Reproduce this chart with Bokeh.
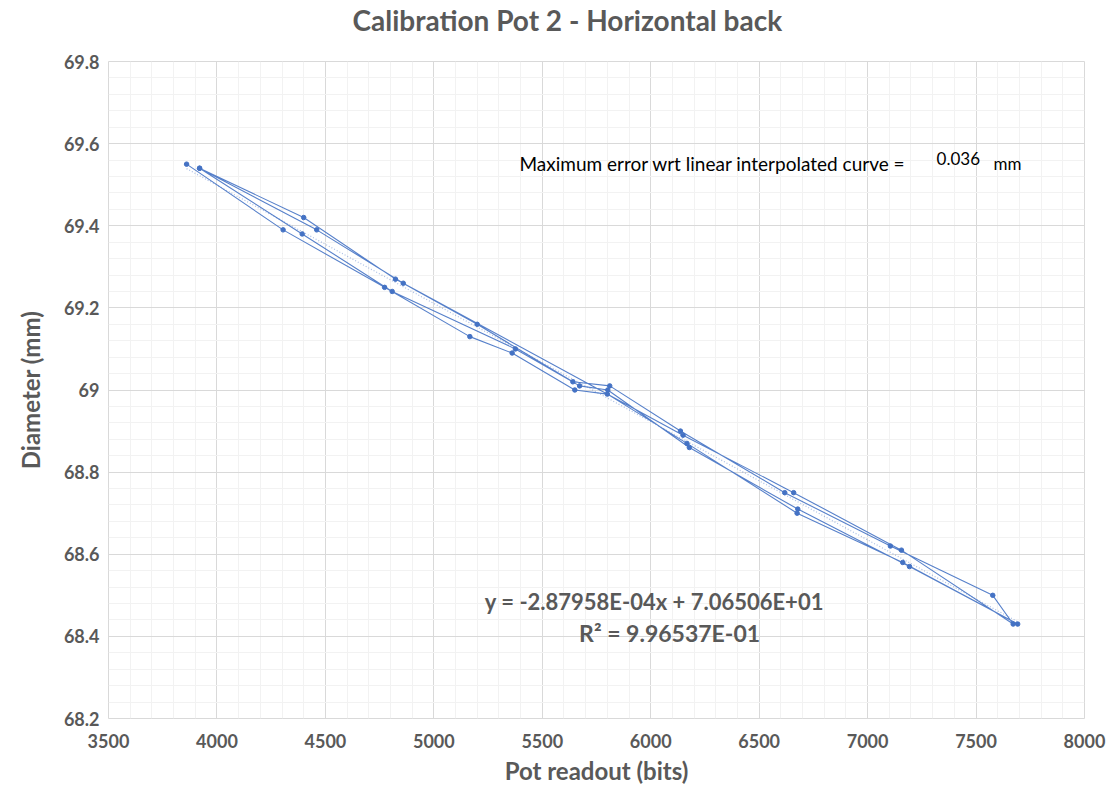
from bokeh.plotting import figure
from bokeh.models import (FixedTicker, CustomJSTickFormatter, Label, ColumnDataSource,
                          Range1d, Title)
from bokeh.embed import file_html
from bokeh.resources import INLINE

# Pot readings (bits) and measured diameter (mm), in acquisition order
pot_bits = [3860, 4305, 4773, 5166, 5361, 5650, 5800, 6167, 6675, 7162, 7692,
            7193, 6678, 6178, 5802, 5672, 5376, 4808, 4393, 3920,
            4400, 4823, 5200, 5641, 5811, 6137, 6618, 7105, 7577, 7671,
            7156, 6659, 6149, 4859, 4460, 3920]
diameter_mm = [69.55, 69.39, 69.25, 69.13, 69.09, 69.00, 68.99, 68.87, 68.70, 68.58, 68.43,
               68.57, 68.71, 68.86, 69.00, 69.01, 69.10, 69.24, 69.38, 69.54,
               69.42, 69.27, 69.16, 69.02, 69.01, 68.90, 68.75, 68.62, 68.50, 68.43,
               68.61, 68.75, 68.89, 69.26, 69.39, 69.54]

# Linear fit reported on the chart
fit_slope = -2.87958e-04
fit_intercept = 7.06506e+01
fit_r2 = 9.96537e-01
max_error_mm = 0.036

chart_title = "Calibration Pot 2 - Horizontal back"
x_ticks = [3500, 4000, 4500, 5000, 5500, 6000, 6500, 7000, 7500, 8000]
y_ticks = [68.2, 68.4, 68.6, 68.8, 69.0, 69.2, 69.4, 69.6, 69.8]

TEXT_GREY = "#595959"
BLUE = "#4472C4"
FONT = "Lato"

p = figure(width=1120, height=804, output_backend="svg", toolbar_location=None,
           x_range=Range1d(3500, 8000), y_range=Range1d(68.2, 69.8),
           title=chart_title)
p.min_border_left = 108
p.min_border_right = 36
p.min_border_top = 60
p.min_border_bottom = 86
p.background_fill_color = "white"
p.border_fill_color = "white"
p.outline_line_color = "#D9D9D9"

p.title.align = "left"
p.title.offset = 244
p.title.text_font = FONT
p.title.text_font_size = "28px"
p.title.text_font_style = "bold"
p.title.text_color = TEXT_GREY
p.title.standoff = 0

# blank band between the title and the plot area
p.add_layout(Title(text=" ", text_font_size="16px", standoff=6), "above")

# axes
x_minor = [v for v in range(3500, 8001, 100) if v not in x_ticks]
y_minor = [round(68.2 + 0.04 * i, 2) for i in range(41)]
y_minor = [v for v in y_minor if all(abs(v - t) > 1e-6 for t in y_ticks)]
p.xaxis.ticker = FixedTicker(ticks=x_ticks, minor_ticks=x_minor)
p.yaxis.ticker = FixedTicker(ticks=y_ticks, minor_ticks=y_minor)
p.yaxis.formatter = CustomJSTickFormatter(
    code="return tick.toFixed(1).replace(/\\.0$/, '');")

for ax in (p.xaxis, p.yaxis):
    ax.axis_line_color = None
    ax.major_tick_line_color = None
    ax.minor_tick_line_color = None
    ax.major_label_text_font = FONT
    ax.major_label_text_font_size = "18px"
    ax.major_label_text_font_style = "bold"
    ax.major_label_text_color = TEXT_GREY
    ax.axis_label_text_font = FONT
    ax.axis_label_text_font_size = "24px"
    ax.axis_label_text_font_style = "bold"
    ax.axis_label_text_color = TEXT_GREY

p.xaxis.major_label_standoff = 9
p.yaxis.major_label_standoff = 3
p.xaxis.axis_label = "Pot readout (bits)"
p.yaxis.axis_label = "Diameter (mm)"
p.xaxis.axis_label_standoff = 5
p.yaxis.axis_label_standoff = 16

p.xgrid.grid_line_color = "#D9D9D9"
p.ygrid.grid_line_color = "#D9D9D9"
p.xgrid.minor_grid_line_color = "#F2F2F2"
p.ygrid.minor_grid_line_color = "#F2F2F2"

# dotted linear trendline
fit_x = [min(pot_bits), max(pot_bits)]
fit_y = [fit_intercept + fit_slope * v for v in fit_x]
p.line(fit_x, fit_y, line_color=BLUE, line_alpha=0.45, line_width=1.2,
       line_dash="1 2")

# measured sweep
src = ColumnDataSource(data=dict(x=pot_bits, y=diameter_mm))
p.line("x", "y", source=src, line_color=BLUE, line_width=1.1, line_alpha=0.9)
p.scatter("x", "y", source=src, size=4.5, fill_color=BLUE, line_color=BLUE)

# annotations
note_style = dict(text_font=FONT, text_color="black", text_baseline="middle")
p.add_layout(Label(x=5395, y=69.552,
                   text="Maximum error wrt linear interpolated curve =",
                   text_font_size="19px", **note_style))
p.add_layout(Label(x=7318, y=69.564, text=f"{max_error_mm:.3f}",
                   text_font_size="17px", **note_style))
p.add_layout(Label(x=7580, y=69.552, text="mm", text_font_size="17px", **note_style))

eq_style = dict(text_font=FONT, text_font_style="bold", text_color=TEXT_GREY,
                text_align="center", text_baseline="middle")
p.add_layout(Label(x=6017, y=68.484,
                   text=f"y = {fit_slope:.5E}x + {fit_intercept:.5E}",
                   text_font_size="22px", **eq_style))
p.add_layout(Label(x=6087, y=68.409, text=f"R² = {fit_r2:.5E}",
                   text_font_size="23px", **eq_style))

open("out.html", "w").write(file_html(p, INLINE))
